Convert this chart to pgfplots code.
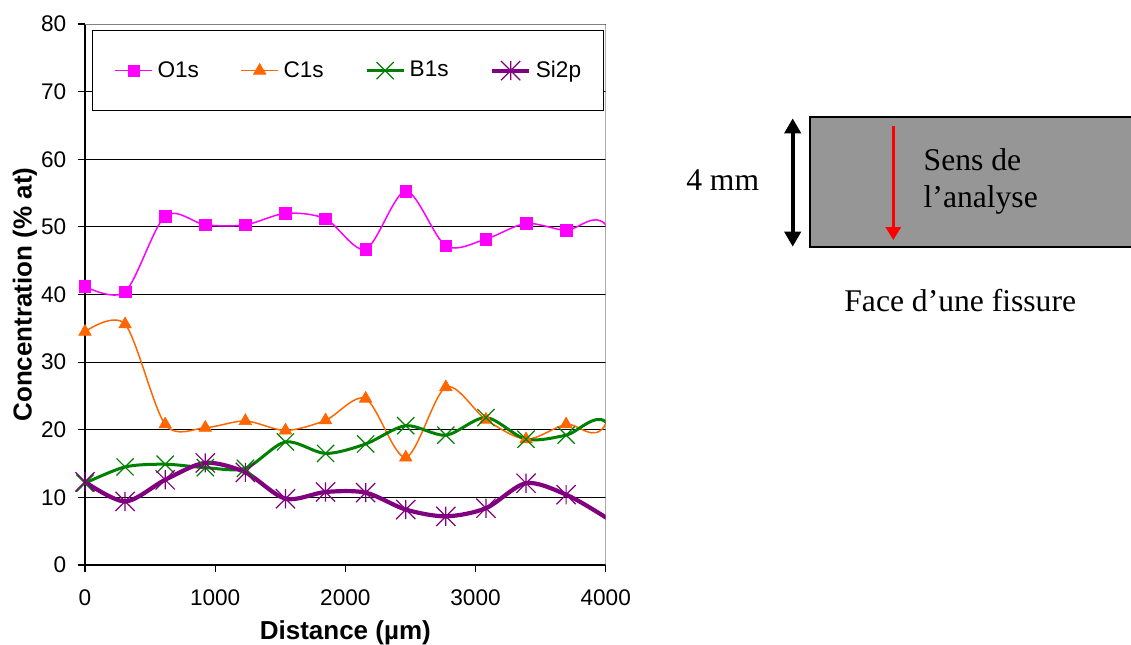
\documentclass[border=0pt]{standalone}
\usepackage{fontspec}
\setmainfont{Liberation Sans}
\newfontfamily\timesf{Liberation Serif}
\usepackage{pgfplots}
\usepackage{pgfplotstable}
\pgfplotsset{compat=1.18}
\usetikzlibrary{arrows.meta}
\definecolor{cO}{HTML}{FF00FF}
\definecolor{cC}{HTML}{FF6600}
\definecolor{cB}{HTML}{008000}
\definecolor{cS}{HTML}{800080}
\definecolor{cgrayborder}{HTML}{808080}
\definecolor{cbox}{HTML}{969696}
\pgfdeclareplotmark{bigx}{%
 \pgfpathmoveto{\pgfqpoint{-\pgfplotmarksize}{-\pgfplotmarksize}}%
 \pgfpathlineto{\pgfqpoint{\pgfplotmarksize}{\pgfplotmarksize}}%
 \pgfpathmoveto{\pgfqpoint{-\pgfplotmarksize}{\pgfplotmarksize}}%
 \pgfpathlineto{\pgfqpoint{\pgfplotmarksize}{-\pgfplotmarksize}}%
 \pgfusepathqstroke}
\pgfdeclareplotmark{xstar}{%
 \pgfpathmoveto{\pgfqpoint{-\pgfplotmarksize}{-\pgfplotmarksize}}%
 \pgfpathlineto{\pgfqpoint{\pgfplotmarksize}{\pgfplotmarksize}}%
 \pgfpathmoveto{\pgfqpoint{-\pgfplotmarksize}{\pgfplotmarksize}}%
 \pgfpathlineto{\pgfqpoint{\pgfplotmarksize}{-\pgfplotmarksize}}%
 \pgfpathmoveto{\pgfqpoint{0pt}{-\pgfplotmarksize}}%
 \pgfpathlineto{\pgfqpoint{0pt}{\pgfplotmarksize}}%
 \pgfusepathqstroke}

\pgfplotstableread{
x    o    c    b    s
0    41.2 34.5 12.1 12.3
308  40.4 35.6 14.5 9.4
616  51.6 20.8 14.9 12.6
924  50.3 20.3 14.4 15.1
1232 50.3 21.3 14.3 13.7
1540 52.0 19.9 18.2 9.8
1848 51.2 21.4 16.5 10.8
2156 46.7 24.6 17.9 10.7
2464 55.3 15.9 20.6 8.2
2772 47.2 26.3 19.2 7.2
3080 48.2 21.5 21.8 8.4
3388 50.5 18.6 18.6 12.1
3696 49.5 20.8 19.2 10.4
4004 50.2 21.0 21.1 7.0
4312 33.0 45.0 8.0 3.0
}\data

\begin{document}
\begin{tikzpicture}
\begin{axis}[
  scale only axis, width=260.35pt, height=270.5pt,
  xmin=0, xmax=4000, ymin=0, ymax=80,
  xtick={0,1000,2000,3000,4000},
  ytick={0,10,20,30,40,50,60,70,80},
  scaled x ticks=false, scaled y ticks=false,
  /pgf/number format/1000 sep={},
  /pgf/number format/assume math mode=true,
  tick label style={font=\fontsize{11.3}{13.5}\selectfont},
  yticklabel style={anchor=east, inner sep=0pt},
  xticklabel style={anchor=north, inner sep=0pt},
  yticklabel shift=5.5pt,
  xticklabel shift=8.3pt,
  xlabel={\bfseries Distance (µm)},
  ylabel={\bfseries Concentration (\% at)},
  label style={font=\fontsize{13}{15}\selectfont},
  xlabel style={at={(axis description cs:0.5,-0.1386)}, anchor=base},
  ylabel style={at={(axis description cs:-0.1024,0.5)}, anchor=base},
  axis x line*=bottom, axis y line*=left,
  axis line style={black, line width=0.6pt},
  tick align=outside, major tick length=3.7pt,
  tick style={black, line width=0.6pt},
  ymajorgrids, grid style={black, line width=0.5pt},
  legend image code/.code={\draw[mark repeat=2, mark phase=2, #1] plot coordinates {(0pt,0pt) (9.25pt,0pt) (18.5pt,0pt)};},
  legend style={at={(rel axis cs:0.01344,0.989)}, anchor=north west,
    draw=black, line width=0.5pt, fill=white,
    inner xsep=11pt, inner ysep=15.25pt,
    nodes={inner sep=0pt},
    font=\fontsize{11.3}{13.5}\selectfont,
    /tikz/every odd column/.append style={column sep=2.3pt},
    /tikz/every even column/.append style={column sep=20.7pt}},
  legend columns=4,
]
\draw[cgrayborder, line width=1pt] (rel axis cs:0,1) -- (rel axis cs:1,1) -- (rel axis cs:1,0);

\addlegendimage{color=cO, line width=0.75pt, mark=square*, mark size=2.9pt, mark options={solid, fill=cO, line width=0.3pt}}
\addlegendentry{O1s}
\addlegendimage{color=cC, line width=0.75pt, mark=triangle*, mark size=3.6pt, mark options={solid, fill=cC, line width=0.3pt}}
\addlegendentry{C1s}
\addlegendimage{color=cB, line width=1.5pt, mark=bigx, mark size=4.3pt, mark options={solid, line width=0.6pt}}
\addlegendentry{B1s}
\addlegendimage{color=cS, line width=2.1pt, mark=xstar, mark size=4.8pt, mark options={solid, line width=0.6pt}}
\addlegendentry{Si2p}

\addplot[forget plot, color=cO, line width=0.75pt, smooth, no markers] table[x=x, y=o]{\data};
\addplot[forget plot, only marks, color=cO, mark=square*, mark size=2.9pt, mark options={fill=cO, line width=0.3pt}, restrict x to domain=-10:3800] table[x=x, y=o]{\data};

\addplot[forget plot, color=cC, line width=0.75pt, smooth, no markers] table[x=x, y=c]{\data};
\addplot[forget plot, only marks, color=cC, mark=triangle*, mark size=3.6pt, mark options={fill=cC, line width=0.3pt}, restrict x to domain=-10:3800] table[x=x, y=c]{\data};

\addplot[forget plot, color=cB, line width=1.5pt, smooth, no markers] table[x=x, y=b]{\data};
\addplot[forget plot, only marks, color=cB, mark=bigx, mark size=4.3pt, mark options={line width=0.6pt}, restrict x to domain=-10:3800] table[x=x, y=b]{\data};

\addplot[forget plot, color=cS, line width=2.1pt, smooth, no markers] table[x=x, y=s]{\data};
\addplot[forget plot, only marks, color=cS, mark=xstar, mark size=4.8pt, mark options={line width=0.6pt}, restrict x to domain=-10:3800] table[x=x, y=s]{\data};
\end{axis}

\fill[cbox] (362.5pt,159.15pt) rectangle (530pt,223.85pt);
\draw[line width=0.9pt] (530pt,223.85pt) -- (362.5pt,223.85pt) -- (362.5pt,159.15pt) -- (530pt,159.15pt);
\draw[line width=2pt, {Triangle[width=8pt,length=7.5pt]}-{Triangle[width=8pt,length=7.5pt]}] (353.85pt,159.15pt) -- (353.85pt,223.35pt);
\draw[line width=1.5pt, red, -{Triangle[width=7.5pt,length=6.5pt]}] (404.15pt,219.5pt) -- (404.15pt,162.5pt);
\node[anchor=base, inner sep=0pt, font=\timesf\fontsize{15.8}{18.3}\selectfont] at (318.85pt,187.5pt) {4 mm};
\node[anchor=base west, inner sep=0pt, font=\timesf\fontsize{15.8}{18.3}\selectfont] at (419.15pt,197.15pt) {Sens de};
\node[anchor=base west, inner sep=0pt, font=\timesf\fontsize{15.8}{18.3}\selectfont] at (419.15pt,178.85pt) {l’analyse};
\node[anchor=base west, inner sep=0pt, font=\timesf\fontsize{15.8}{18.3}\selectfont] at (379.5pt,126.65pt) {Face d’une fissure};

\pgfresetboundingbox
\path[use as bounding box] (-42.5pt,-39.5pt) rectangle (523pt,282.5pt);
\end{tikzpicture}
\end{document}
